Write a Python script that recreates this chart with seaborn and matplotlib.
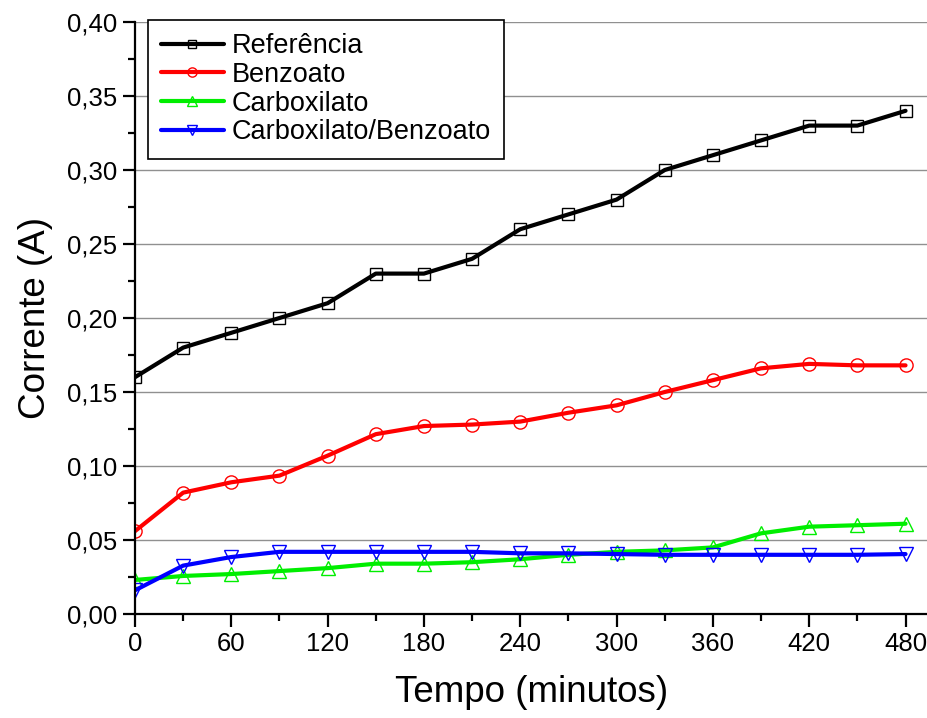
import matplotlib
matplotlib.use("Agg")
import matplotlib.pyplot as plt
import seaborn as sns
import pandas as pd
from matplotlib.ticker import FuncFormatter, MultipleLocator

tempo = [0, 30, 60, 90, 120, 150, 180, 210, 240, 270, 300, 330, 360, 390, 420, 450, 480]
referencia = [0.160, 0.180, 0.190, 0.200, 0.210, 0.230, 0.230, 0.240, 0.260, 0.270, 0.280,
              0.300, 0.310, 0.320, 0.330, 0.330, 0.340]
benzoato = [0.056, 0.082, 0.089, 0.0935, 0.107, 0.1215, 0.127, 0.128, 0.130, 0.136, 0.141,
            0.150, 0.158, 0.166, 0.169, 0.168, 0.168]
carboxilato = [0.023, 0.0257, 0.027, 0.029, 0.031, 0.034, 0.034, 0.035, 0.037, 0.040, 0.042,
               0.043, 0.045, 0.0545, 0.059, 0.060, 0.061]
carb_benz = [0.016, 0.0327, 0.0385, 0.042, 0.042, 0.042, 0.042, 0.042, 0.041, 0.041, 0.0405,
             0.040, 0.040, 0.040, 0.040, 0.040, 0.0405]

series = [
    ("Referência", referencia, "#000000", "s", 8.5),
    ("Benzoato", benzoato, "#ff0000", "o", 9.5),
    ("Carboxilato", carboxilato, "#00ee00", "^", 10),
    ("Carboxilato/Benzoato", carb_benz, "#0000ff", "v", 10),
]

sns.set_theme(style="white")
plt.rcParams['font.family'] = ['Liberation Sans', 'DejaVu Sans']
plt.rcParams['text.color'] = 'black'

fig = plt.figure(figsize=(9.28, 7.18), dpi=100)
ax = fig.add_axes([135/928, 1 - 614/718, 1 - 135/928, (614 - 22)/718])

for name, vals, col, mk, ms in series:
    df = pd.DataFrame({"Tempo": tempo, "Corrente": vals})
    sns.lineplot(data=df, x="Tempo", y="Corrente", ax=ax, color=col, linewidth=3.0,
                 marker=mk, markersize=ms, markerfacecolor="none", markeredgecolor=col,
                 markeredgewidth=1.0, label=name)

ax.set_xlim(0, 494)
ax.set_ylim(0, 0.40)
ax.xaxis.set_major_locator(MultipleLocator(60))
ax.xaxis.set_minor_locator(MultipleLocator(30))
ax.yaxis.set_major_locator(MultipleLocator(0.05))
ax.yaxis.set_minor_locator(MultipleLocator(0.025))
ax.yaxis.set_major_formatter(FuncFormatter(lambda v, p: f"{v:.2f}".replace('.', ',')))

ax.grid(axis='y', which='major', color='#909090', linewidth=1.0)
ax.set_axisbelow(True)
for s in ['top', 'right']:
    ax.spines[s].set_visible(False)
for s in ['left', 'bottom']:
    ax.spines[s].set_color('black')
    ax.spines[s].set_linewidth(1.6)

ax.tick_params(axis='both', which='major', direction='out', length=9, width=1.6,
               labelsize=18.5, colors='black', pad=4, bottom=True, left=True)
ax.tick_params(axis='both', which='minor', direction='out', length=5, width=1.6,
               colors='black', bottom=True, left=True)

ax.set_xlabel("Tempo (minutos)", fontsize=26.5, color='black', labelpad=14)
ax.set_ylabel("Corrente (A)", fontsize=26.5, color='black', labelpad=10)

leg = ax.legend(loc='upper left', bbox_to_anchor=(0.016, 1.004), borderaxespad=0,
                fontsize=19.5, frameon=True, fancybox=False, edgecolor='black',
                handlelength=2.3, markerscale=0.7, labelspacing=0.1,
                borderpad=0.5, handletextpad=0.3)
leg.get_frame().set_linewidth(1.2)
leg.get_frame().set_alpha(1)
for t in leg.get_texts():
    t.set_color('black')

fig.savefig("out.png", dpi=100)
